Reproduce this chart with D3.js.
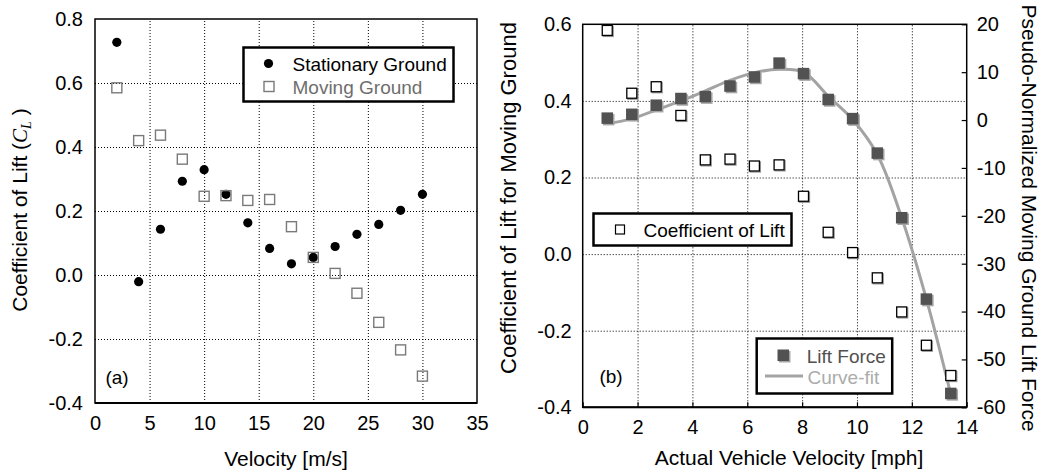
<!DOCTYPE html>
<html><head><meta charset="utf-8">
<script src="https://cdn.jsdelivr.net/npm/d3@7"></script>
<style>
body{margin:0;background:#fff}
svg{display:block;font-family:"Liberation Sans",Arial,Helvetica,sans-serif}
</style></head><body>
<svg id="c" width="1041" height="475"></svg>
<script>
// ---------- data: panel (a) ----------
const velocityMS   = [2, 4, 6, 8, 10, 12, 14, 16, 18, 20, 22, 24, 26, 28, 30];
const stationaryCL = [0.727, -0.021, 0.143, 0.293, 0.329, 0.252, 0.163, 0.083, 0.035, 0.055, 0.089, 0.127, 0.158, 0.202, 0.252];
const movingCL     = [0.585, 0.420, 0.437, 0.362, 0.246, 0.248, 0.233, 0.236, 0.151, 0.055, 0.005, -0.057, -0.148, -0.234, -0.316];
const xTicksA = [0, 5, 10, 15, 20, 25, 30, 35];
const yTicksA = [-0.4, -0.2, 0, 0.2, 0.4, 0.6, 0.8];
const yLabelsA = ["-0.4", "-0.2", "0.0", "0.2", "0.4", "0.6", "0.8"];

// ---------- data: panel (b) ----------
const vehicleMph = [0.895, 1.79, 2.68, 3.58, 4.47, 5.37, 6.26, 7.16, 8.05, 8.95, 9.84, 10.74, 11.63, 12.53, 13.42];
const coefLiftB  = [0.584, 0.420, 0.437, 0.362, 0.246, 0.248, 0.230, 0.233, 0.151, 0.057, 0.004, -0.062, -0.151, -0.238, -0.317];
const liftForce  = [0.4, 1.2, 3.1, 4.5, 4.9, 7.1, 9.0, 11.9, 9.7, 4.3, 0.3, -6.9, -20.4, -37.4, -57.1];
const curveFit   = [-0.8, 0.3, 2.1, 4.0, 6.1, 8.3, 9.9, 10.6, 10.0, 5.0, 0.1, -7.2, -20.4, -37.4, -57.3];
const xTicksB = [0, 2, 4, 6, 8, 10, 12, 14];
const yTicksBL = [-0.4, -0.2, 0, 0.2, 0.4, 0.6];
const yLabelsBL = ["-0.4", "-0.2", "0.0", "0.2", "0.4", "0.6"];
const yTicksBR = [-60, -50, -40, -30, -20, -10, 0, 10, 20];
const yLabelsBR = ["-60", "-50", "-40", "-30", "-20", "-10", "0", "10", "20"];

const svg = d3.select("#c");
const TICK_FS = 20, TITLE_FS = 21, LEG_FS = 19;

function styleAxis(g, fs){
  g.attr("font-size", fs).attr("font-family", null);
  g.select(".domain").remove();
  g.selectAll("text").attr("fill", "#000");
}
function grid(g, axis){
  g.call(axis);
  g.select(".domain").remove();
  g.selectAll("text").remove();
  g.selectAll("line").attr("stroke", "#000").attr("stroke-width", 1).attr("stroke-dasharray", "1,2");
}

// ================= panel (a) =================
{
  const L = 95, R = 477, T = 19, B = 403;
  const x = d3.scaleLinear().domain([0, 35]).range([L, R]);
  const y = d3.scaleLinear().domain([-0.4, 0.8]).range([B, T]);

  svg.append("g").attr("transform", `translate(0,${B})`)
     .call(g => grid(g, d3.axisBottom(x).tickValues(xTicksA.slice(1, -1)).tickSize(-(B - T)).tickFormat("")));
  svg.append("g").attr("transform", `translate(${L},0)`)
     .call(g => grid(g, d3.axisLeft(y).tickValues(yTicksA.slice(1, -1)).tickSize(-(R - L)).tickFormat("")));

  svg.append("rect").attr("x", L).attr("y", T).attr("width", R - L).attr("height", B - T)
     .attr("fill", "none").attr("stroke", "#000").attr("stroke-width", 1.5);
  svg.append("line").attr("x1", L).attr("x2", R).attr("y1", B).attr("y2", B)
     .attr("stroke", "#000").attr("stroke-width", 2);

  svg.append("g").attr("transform", `translate(0,${B})`)
     .call(d3.axisBottom(x).tickValues(xTicksA).tickSize(0).tickPadding(13))
     .call(g => styleAxis(g, TICK_FS));
  svg.append("g").attr("transform", `translate(${L},0)`)
     .call(d3.axisLeft(y).tickValues(yTicksA).tickSize(0).tickPadding(12).tickFormat((d, i) => yLabelsA[i]))
     .call(g => styleAxis(g, TICK_FS));

  svg.append("g").selectAll("circle").data(velocityMS).join("circle")
     .attr("cx", d => x(d)).attr("cy", (d, i) => y(stationaryCL[i])).attr("r", 4.6).attr("fill", "#000");
  const s = 10;
  svg.append("g").selectAll("rect").data(velocityMS).join("rect")
     .attr("x", d => x(d) - s / 2).attr("y", (d, i) => y(movingCL[i]) - s / 2)
     .attr("width", s).attr("height", s).attr("fill", "none").attr("stroke", "#7a7a7a").attr("stroke-width", 1.4);

  const lg = svg.append("g");
  lg.append("rect").attr("x", 243.5).attr("y", 47.5).attr("width", 210).attr("height", 54)
    .attr("fill", "#fff").attr("stroke", "#000").attr("stroke-width", 2.5);
  lg.append("circle").attr("cx", 268.5).attr("cy", 63.5).attr("r", 4.6).attr("fill", "#000");
  lg.append("text").attr("x", 292.5).attr("y", 70.5).attr("font-size", LEG_FS).text("Stationary Ground");
  lg.append("rect").attr("x", 264).attr("y", 81.5).attr("width", 10).attr("height", 10)
    .attr("fill", "none").attr("stroke", "#7a7a7a").attr("stroke-width", 1.4);
  lg.append("text").attr("x", 292.5).attr("y", 93.5).attr("font-size", LEG_FS).attr("fill", "#6e6e6e").text("Moving Ground");

  svg.append("text").attr("x", 117).attr("y", 384).attr("text-anchor", "middle").attr("font-size", LEG_FS).text("(a)");

  svg.append("text").attr("x", (L + R) / 2).attr("y", 466).attr("text-anchor", "middle")
     .attr("font-size", TITLE_FS).text("Velocity [m/s]");
  const yt = svg.append("text").attr("transform", "translate(27,210) rotate(-90)")
     .attr("text-anchor", "middle").attr("font-size", TITLE_FS);
  yt.append("tspan").text("Coefficient of Lift (");
  yt.append("tspan").attr("font-family", "'Liberation Serif', serif").attr("font-style", "italic").text("C");
  yt.append("tspan").attr("font-family", "'Liberation Serif', serif").attr("font-style", "italic")
    .attr("font-size", 14).attr("dy", 4).text("L");
  yt.append("tspan").attr("dy", -4).text(" )");
}

// ================= panel (b) =================
{
  const L = 582.7, R = 966.7, T = 24.3, B = 407.3;
  const x = d3.scaleLinear().domain([0, 14]).range([L, R]);
  const y = d3.scaleLinear().domain([-0.4, 0.6]).range([B, T]);
  const yR = d3.scaleLinear().domain([-60, 20]).range([B, T]);

  svg.append("g").attr("transform", `translate(0,${B})`)
     .call(g => grid(g, d3.axisBottom(x).tickValues(xTicksB.slice(1, -1)).tickSize(-(B - T)).tickFormat("")));
  svg.append("g").attr("transform", `translate(${L},0)`)
     .call(g => grid(g, d3.axisLeft(y).tickValues(yTicksBL.slice(1, -1)).tickSize(-(R - L)).tickFormat("")));

  svg.append("g").attr("transform", `translate(${R},0)`)
     .call(d3.axisRight(yR).tickValues(yTicksBR).tickSize(-5).tickFormat(""))
     .call(g => { g.select(".domain").remove(); g.selectAll("line").attr("stroke", "#000").attr("stroke-width", 1.2); });
  svg.append("g").attr("transform", `translate(0,${B})`)
     .call(d3.axisBottom(x).tickValues(xTicksB).tickSize(-5).tickFormat(""))
     .call(g => { g.select(".domain").remove(); g.selectAll("line").attr("stroke", "#000").attr("stroke-width", 1.2); });

  svg.append("rect").attr("x", L).attr("y", T).attr("width", R - L).attr("height", B - T)
     .attr("fill", "none").attr("stroke", "#000").attr("stroke-width", 1.5);
  svg.append("line").attr("x1", L).attr("x2", R).attr("y1", B).attr("y2", B)
     .attr("stroke", "#000").attr("stroke-width", 2);

  svg.append("g").attr("transform", `translate(0,${B})`)
     .call(d3.axisBottom(x).tickValues(xTicksB).tickSize(0).tickPadding(13))
     .call(g => styleAxis(g, TICK_FS));
  svg.append("g").attr("transform", `translate(${L},0)`)
     .call(d3.axisLeft(y).tickValues(yTicksBL).tickSize(0).tickPadding(11).tickFormat((d, i) => yLabelsBL[i]))
     .call(g => styleAxis(g, TICK_FS));
  svg.append("g").attr("transform", `translate(${R},0)`)
     .call(d3.axisRight(yR).tickValues(yTicksBR).tickSize(0).tickPadding(10).tickFormat((d, i) => yLabelsBR[i]))
     .call(g => styleAxis(g, TICK_FS));

  const line = d3.line().x((d, i) => x(vehicleMph[i])).y(d => yR(d)).curve(d3.curveCatmullRom.alpha(0.5));
  svg.append("path").datum(curveFit).attr("d", line).attr("fill", "none")
     .attr("stroke", "#a3a3a3").attr("stroke-width", 3);

  const s = 10;
  const og = svg.append("g");
  og.selectAll("rect.sh").data(vehicleMph).join("rect").attr("class", "sh")
    .attr("x", d => x(d) - s / 2 + 1).attr("y", (d, i) => y(coefLiftB[i]) - s / 2 + 1)
    .attr("width", s).attr("height", s).attr("fill", "none").attr("stroke", "#999").attr("stroke-width", 1.3);
  og.selectAll("rect.sq").data(vehicleMph).join("rect").attr("class", "sq")
    .attr("x", d => x(d) - s / 2).attr("y", (d, i) => y(coefLiftB[i]) - s / 2)
    .attr("width", s).attr("height", s).attr("fill", "#fff").attr("stroke", "#000").attr("stroke-width", 1.3);

  const f = 11.5;
  const fg = svg.append("g");
  fg.selectAll("rect.sh").data(vehicleMph).join("rect").attr("class", "sh")
    .attr("x", d => x(d) - f / 2 + 1.5).attr("y", (d, i) => yR(liftForce[i]) - f / 2 + 1.5)
    .attr("width", f).attr("height", f).attr("fill", "#a5a5a5");
  fg.selectAll("rect.sq").data(vehicleMph).join("rect").attr("class", "sq")
    .attr("x", d => x(d) - f / 2).attr("y", (d, i) => yR(liftForce[i]) - f / 2)
    .attr("width", f).attr("height", f).attr("fill", "#525252");

  const l1 = svg.append("g");
  l1.append("rect").attr("x", 593.5).attr("y", 213.5).attr("width", 198).attr("height", 32)
    .attr("fill", "#fff").attr("stroke", "#000").attr("stroke-width", 2.5);
  l1.append("rect").attr("x", 615.5).attr("y", 225).attr("width", 9).attr("height", 9)
    .attr("fill", "#fff").attr("stroke", "#000").attr("stroke-width", 1.2);
  l1.append("text").attr("x", 643.5).attr("y", 236.5).attr("font-size", LEG_FS).text("Coefficient of Lift");

  const l2 = svg.append("g");
  l2.append("rect").attr("x", 756.7).attr("y", 338.5).attr("width", 135.5).attr("height", 55)
    .attr("fill", "#fff").attr("stroke", "#000").attr("stroke-width", 2.5);
  l2.append("rect").attr("x", 779).attr("y", 351).attr("width", 11.5).attr("height", 11.5).attr("fill", "#a5a5a5");
  l2.append("rect").attr("x", 777.5).attr("y", 349.5).attr("width", 11.5).attr("height", 11.5).attr("fill", "#525252");
  l2.append("text").attr("x", 806.7).attr("y", 363).attr("font-size", LEG_FS).attr("fill", "#505050").text("Lift Force");
  l2.append("line").attr("x1", 765).attr("x2", 803).attr("y1", 376).attr("y2", 376)
    .attr("stroke", "#a3a3a3").attr("stroke-width", 3);
  l2.append("text").attr("x", 807.5).attr("y", 383.5).attr("font-size", LEG_FS).attr("fill", "#ababab").text("Curve-fit");

  svg.append("text").attr("x", 611).attr("y", 383).attr("text-anchor", "middle").attr("font-size", LEG_FS).text("(b)");

  svg.append("text").attr("x", 789).attr("y", 465).attr("text-anchor", "middle")
     .attr("font-size", TITLE_FS).text("Actual Vehicle Velocity [mph]");
  svg.append("text").attr("transform", "translate(516,198) rotate(-90)").attr("text-anchor", "middle")
     .attr("font-size", 22).text("Coefficient of Lift for Moving Ground");
  svg.append("text").attr("transform", "translate(1022,218) rotate(90)").attr("text-anchor", "middle")
     .attr("font-size", TITLE_FS).text("Pseudo-Normalized Moving Ground Lift Force");
}
</script>
</body></html>
